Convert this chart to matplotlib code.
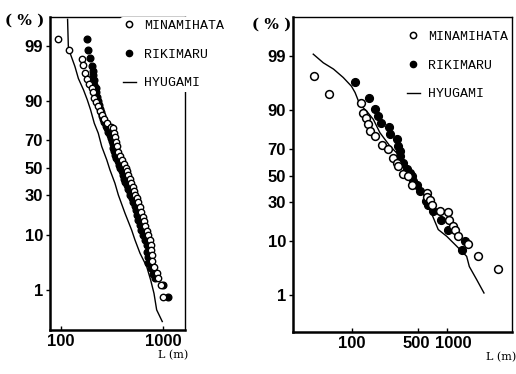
import math
from statistics import NormalDist
import numpy as np
import matplotlib
matplotlib.use('Agg')
import matplotlib.pyplot as plt
from matplotlib.lines import Line2D
import matplotlib.transforms as mtransforms

# ---- data: percent, length L (m) ----
# left panel
mina_L_p = [99.3, 98.8, 98.1, 97.5, 96.5, 95.5, 94.5, 93.6, 92.5, 91.0, 89.5, 88.0, 86.0, 84.4,
            82.5, 80.5, 78.5, 77.5, 75.0, 72.0, 69.0, 66.0, 62.0, 59.0, 56.0, 53.0, 50.0, 47.5,
            44.7, 42.0, 39.0, 36.0, 33.0, 30.5, 28.3, 26.0, 23.0, 20.0, 17.5, 15.5, 13.5, 11.5,
            10.0, 8.5, 7.0, 5.8, 4.8, 3.8, 3.0, 2.3, 1.8, 1.3, 0.69]
mina_L_x = [93, 121, 160, 163, 173, 180, 190, 200, 204, 210, 222, 232, 242, 251,
            265, 285, 310, 326, 332, 340, 345, 352, 362, 378, 395, 415, 430, 445,
            454, 470, 490, 505, 520, 535, 552, 570, 590, 610, 630, 650, 670, 695,
            720, 740, 755, 765, 775, 780, 820, 870, 900, 955, 990]
riki_L_p = [99.3, 98.8, 98.2, 97.4, 96.8, 96.2, 95.3, 94.4, 93.6, 92.5, 91.2, 89.8, 88.5, 87.0,
            85.5, 84.0, 82.5, 80.8, 79.0, 77.5, 75.6, 73.5, 71.5, 69.5, 67.5, 65.0, 62.5, 60.0,
            57.5, 55.0, 52.5, 50.0, 47.5, 44.7, 42.0, 39.5, 37.0, 34.5, 32.0, 30.0, 28.3, 26.0,
            23.5, 21.0, 18.5, 16.0, 14.0, 12.0, 10.0, 8.5, 7.0, 5.5, 4.5, 3.5, 2.8, 2.2, 1.8,
            1.3, 0.69]
riki_L_x = [181, 185, 194, 203, 205, 207, 210, 213, 218, 222, 226, 230, 236, 240,
            246, 252, 258, 266, 274, 282, 292, 300, 308, 314, 320, 326, 332, 340,
            350, 362, 372, 382, 392, 405, 412, 425, 440, 455, 470, 480, 493, 510,
            530, 548, 560, 568, 590, 610, 630, 660, 690, 700, 714, 720, 760, 800, 840,
            1010, 1130]
hyu_L_p = [99.77, 98.97, 98.45, 97.34, 95.6, 93.2, 90.3, 86.6, 80.3, 74.6, 65.8, 56.1, 48.5,
           38.5, 30.3, 19.4, 11.8, 8.5, 5.2, 3.0, 1.63, 0.84, 0.34, 0.17]
hyu_L_x = [116, 118, 124.5, 137, 148, 166, 181, 195, 212, 232, 251, 281, 302,
           338, 365, 424, 493, 531, 595, 692, 757, 816, 867, 984]

# right panel
mina_R_p = [97.4, 94.3, 92.2, 89.0, 87.0, 84.0, 80.5, 77.9, 72.7, 69.4, 63.6, 59.8, 57.2, 50.8,
            49.5, 43.0, 36.8, 33.8, 31.9, 28.5, 24.2, 23.8, 19.5, 16.4, 14.3, 11.8, 9.2, 5.75, 3.4]
mina_R_x = [39.8, 57.7, 126, 131.5, 140, 148, 155, 175, 205, 241, 272, 295, 307, 342,
            392, 424, 610, 610, 662, 690, 844, 1034, 1055, 1145, 1210, 1313, 1670, 2145, 3470]
riki_R_p = [96.6, 93.5, 90.3, 87.7, 84.5, 82.7, 78.8, 75.9, 71.7, 68.3, 64.7, 59.8, 54.7, 52.1,
            49.5, 45.6, 43.0, 38.0, 30.8, 28.5, 24.2, 19.5, 14.6, 10.0, 7.2]
riki_R_x = [108, 152, 175, 189, 200, 247, 251, 295, 307, 320, 320, 347, 377, 408,
            424, 442, 480, 520, 600, 636, 718, 870, 1034, 1550, 1450]
hyu_R_p = [99.1, 98.6, 98.1, 97.2, 95.9, 94.7, 91.7, 89.5, 86.3, 79.8, 71.7, 64.7, 55.0, 45.0,
           36.8, 25.3, 14.6, 11.8, 8.4, 5.75, 3.8, 2.1, 1.1]
hyu_R_x = [39.2, 50, 64, 81, 99, 108, 121, 143, 168, 197, 251, 320, 385, 460,
           563, 662, 809, 993, 1265, 1611, 1717, 2058, 2450]

pct_ticks = [1, 10, 30, 50, 70, 90, 99]
series_names = ['MINAMIHATA', 'RIKIMARU', 'HYUGAMI']

_nd = NormalDist()
_erf = np.vectorize(math.erf)


def p_to_z(p):
    p = np.clip(np.asarray(p, dtype=float) / 100.0, 1e-9, 1 - 1e-9)
    return np.array([_nd.inv_cdf(v) for v in p.ravel()]).reshape(p.shape)


def z_to_p(z):
    z = np.asarray(z, dtype=float)
    return 50.0 * (1.0 + _erf(z / math.sqrt(2.0)))


plt.rcParams['font.family'] = ['Liberation Sans', 'DejaVu Sans']

fig = plt.figure(figsize=(5.16, 3.74), dpi=100)
axL = fig.add_axes([50 / 516, 1 - 330 / 374, 135 / 516, 313 / 374])
axR = fig.add_axes([293 / 516, 1 - 332 / 374, 219 / 516, 315 / 374])

legfont = {'family': 'Liberation Mono', 'size': 9.5}


def setup(ax, xlim, ylim, xticks, ms, legpos):
    ax.set_xscale('log')
    ax.set_yscale('function', functions=(p_to_z, z_to_p))
    ax.set_xlim(*xlim)
    ax.set_ylim(*ylim)
    ax.set_yticks(pct_ticks)
    ax.set_yticklabels([str(t) for t in pct_ticks], fontweight='bold', fontsize=12)
    ax.yaxis.set_minor_locator(plt.NullLocator())
    ax.set_xticks(xticks)
    ax.set_xticklabels([str(t) for t in xticks], fontweight='bold', fontsize=12)
    ax.xaxis.set_minor_locator(plt.NullLocator())
    ax.tick_params(axis='y', direction='out', length=3, width=1, pad=2)
    ax.tick_params(axis='x', direction='in', length=3, width=1, pad=3)
    for s in ax.spines.values():
        s.set_linewidth(1.0)
    ax.spines['left'].set_linewidth(1.8)
    ax.spines['bottom'].set_linewidth(1.8)
    handles = [
        Line2D([], [], ls='none', marker='o', ms=ms, mfc='white', mec='black', mew=1.1),
        Line2D([], [], ls='none', marker='o', ms=ms, mfc='black', mec='black'),
        Line2D([], [], color='black', lw=1.0),
    ]
    leg = ax.legend(handles, series_names, loc='upper left',
                    bbox_to_anchor=legpos, bbox_transform=fig.transFigure,
                    frameon=True, facecolor='white', edgecolor='none', framealpha=1,
                    prop=legfont, handlelength=1.0, handletextpad=0.6,
                    labelspacing=1.25, borderpad=0.2, borderaxespad=0)
    leg.set_zorder(5)


# left panel
axL.plot(hyu_L_x, hyu_L_p, color='black', lw=1.0)
axL.plot(riki_L_x, riki_L_p, ls='none', marker='o', ms=4.8, mfc='black', mec='black')
axL.plot(mina_L_x, mina_L_p, ls='none', marker='o', ms=4.6, mfc='white', mec='black', mew=1.0)
setup(axL, (78, 1644), (0.1, 99.8), [100, 1000], 4.5, (120 / 516, 1 - 17 / 374))

# right panel
axR.plot(hyu_R_x, hyu_R_p, color='black', lw=1.0)
axR.plot(riki_R_x, riki_R_p, ls='none', marker='o', ms=5.6, mfc='black', mec='black')
axR.plot(mina_R_x, mina_R_p, ls='none', marker='o', ms=5.6, mfc='white', mec='black', mew=1.1)
setup(axR, (24, 4830), (0.114, 99.9), [100, 500, 1000], 4.5, (404 / 516, 1 - 28 / 374))

# nudge the crowded "500" / "1000" labels apart a little, as in the original
labs = axR.get_xticklabels()
labs[1].set_transform(labs[1].get_transform() +
                      mtransforms.ScaledTranslation(-2 / 100, 0, fig.dpi_scale_trans))
labs[2].set_transform(labs[2].get_transform() +
                      mtransforms.ScaledTranslation(6 / 100, 0, fig.dpi_scale_trans))

# unit labels
fig.text(25 / 516, 1 - 21 / 374, '( % )', ha='center', va='center', fontsize=11,
         family='DejaVu Serif', fontweight='bold')
fig.text(272 / 516, 1 - 25 / 374, '( % )', ha='center', va='center', fontsize=11,
         family='DejaVu Serif', fontweight='bold')
fig.text(173 / 516, 1 - 355 / 374, 'L (m)', ha='center', va='center', fontsize=8,
         family='DejaVu Serif')
fig.text(501 / 516, 1 - 357 / 374, 'L (m)', ha='center', va='center', fontsize=8,
         family='DejaVu Serif')

fig.savefig('out.png', dpi=100)
